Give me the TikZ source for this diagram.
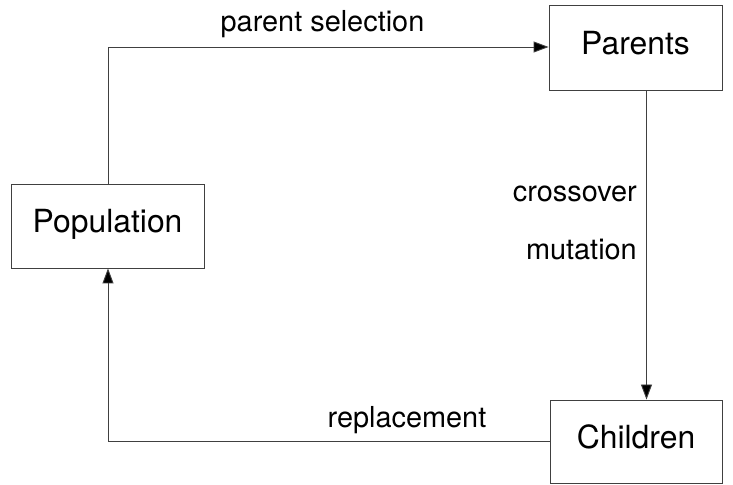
\documentclass[tikz,border=0pt]{standalone}
\usepackage{fontspec}
\setmainfont{TeX Gyre Heros}
\usetikzlibrary{arrows.meta}
\begin{document}
\begin{tikzpicture}[x=1bp,y=1bp,
  stagebox/.style={draw=black!75, line width=0.9bp, inner sep=0pt,
    font=\fontsize{32}{38}\selectfont, text height=23bp, text depth=9bp},
  flow/.style={draw=black!75, line width=0.9bp,
    -{Triangle[length=15bp,width=11bp,fill=black]}},
  steplabel/.style={font=\fontsize{29}{34}\selectfont, inner sep=0pt}]
\useasboundingbox (0,0) rectangle (733,485);
\fill[white] (0,0) rectangle (733,485);

% the three stages of the cycle
\node[stagebox, minimum width=173bp, minimum height=85bp] (parents) at (635.5,437.5) {Parents};
\node[stagebox, minimum width=193bp, minimum height=84bp] (population) at (107.5,259) {Population};
\node[stagebox, minimum width=172bp, minimum height=83bp] (children) at (636,43.5) {Children};

% connectors
\coordinate (topleft) at (108,438);
\coordinate (vline) at (646.5,0);
\draw[flow] (population.north -| topleft) -- (topleft) -- (parents.west |- topleft);
\draw[flow] (parents.south -| vline) -- (children.north -| vline);
\draw[flow] (children.west) -- (children.west -| topleft) -- (population.south -| topleft);

% step labels
\node[steplabel, anchor=base] (sel) at (322.5,453) {parent selection};
\node[steplabel, anchor=base east] (cross) at (637,283) {crossover};
\node[steplabel, anchor=base east] (mut) at (637,225) {mutation};
\node[steplabel, anchor=base] (repl) at (407,57) {replacement};
\end{tikzpicture}
\end{document}
